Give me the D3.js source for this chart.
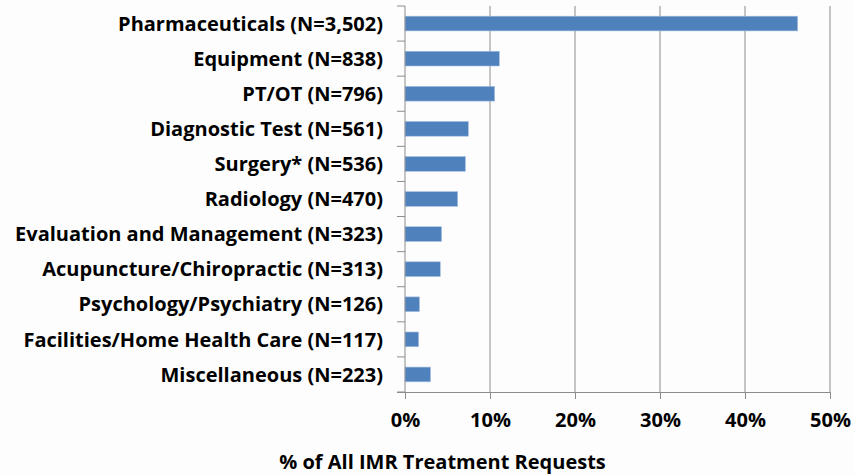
<!DOCTYPE html>
<html>
<head>
<meta charset="utf-8">
<script src="https://cdn.jsdelivr.net/npm/d3@7"></script>
<style>
body { margin: 0; background: #fdfdfd; }
text { font-family: "Open Sans", sans-serif; font-weight: bold; fill: #000; }
</style>
</head>
<body>
<div id="chart"></div>
<script>
var categories = ['Pharmaceuticals (N=3,502)', 'Equipment (N=838)', 'PT/OT (N=796)',
    'Diagnostic Test (N=561)', 'Surgery* (N=536)', 'Radiology (N=470)',
    'Evaluation and Management (N=323)', 'Acupuncture/Chiropractic (N=313)',
    'Psychology/Psychiatry (N=126)', 'Facilities/Home Health Care (N=117)',
    'Miscellaneous (N=223)'];
var percents = [46.2, 11.1, 10.55, 7.45, 7.1, 6.2, 4.3, 4.15, 1.7, 1.6, 3.0];
var xTicks = [0, 10, 20, 30, 40, 50];

var margin = { top: 6, right: 24, bottom: 83, left: 405 },
    width = 854 - margin.left - margin.right,
    height = 475 - margin.top - margin.bottom;

var svg = d3.select('#chart').append('svg')
    .attr('width', 854).attr('height', 475)
    .append('g')
    .attr('transform', 'translate(' + margin.left + ',' + margin.top + ')');

var x = d3.scaleLinear().domain([0, 50]).range([0, width]);
var y = d3.scaleBand().domain(categories).range([0, height]).paddingInner(0.58).paddingOuter(0.29);

// gridlines
svg.selectAll('.grid').data(xTicks.slice(1)).enter().append('line')
    .attr('x1', function(d) { return x(d); }).attr('x2', function(d) { return x(d); })
    .attr('y1', 0).attr('y2', height)
    .style('stroke', '#8c8c8c').style('stroke-width', 1);

// bars
svg.selectAll('.bar').data(percents).enter().append('rect')
    .attr('x', x(0))
    .attr('y', function(d, i) { return y(categories[i]); })
    .attr('width', function(d) { return x(d) - x(0); })
    .attr('height', y.bandwidth())
    .style('fill', '#4f81bd')
    .style('stroke', '#a8c0e0').style('stroke-width', 0.6);

// y axis: line + ticks at band boundaries
var step = height / categories.length;
var bounds = d3.range(categories.length + 1).map(function(i) { return i * step; });
svg.append('line').attr('x1', 0).attr('x2', 0).attr('y1', 0).attr('y2', height)
    .style('stroke', '#8c8c8c');
svg.selectAll('.ytick').data(bounds).enter().append('line')
    .attr('x1', -8).attr('x2', 0)
    .attr('y1', function(d) { return d; }).attr('y2', function(d) { return d; })
    .style('stroke', '#8c8c8c');

svg.selectAll('.ylabel').data(categories).enter().append('text')
    .attr('x', -22)
    .attr('y', function(d) { return y(d) + y.bandwidth() / 2; })
    .attr('dy', '0.36em')
    .style('text-anchor', 'end')
    .style('font-size', '20px')
    .text(function(d) { return d; });

// x axis
var xAxis = svg.append('g')
    .attr('transform', 'translate(0,' + height + ')')
    .call(d3.axisBottom(x).tickValues(xTicks).tickFormat(function(d) { return d + '%'; })
        .tickSizeInner(7).tickSizeOuter(0).tickPadding(14));
xAxis.select('.domain').attr('d', 'M-8,0.5H' + width).style('stroke', '#8c8c8c');
xAxis.selectAll('.tick line').style('stroke', '#8c8c8c');
xAxis.selectAll('.tick text').style('font-size', '20px').style('font-family', '"Open Sans", sans-serif');

svg.append('text')
    .attr('x', (x(0) + x(50)) / 2 - 175)
    .attr('y', height + 77)
    .style('text-anchor', 'middle')
    .style('font-size', '20px')
    .text('% of All IMR Treatment Requests');
</script>
</body>
</html>
